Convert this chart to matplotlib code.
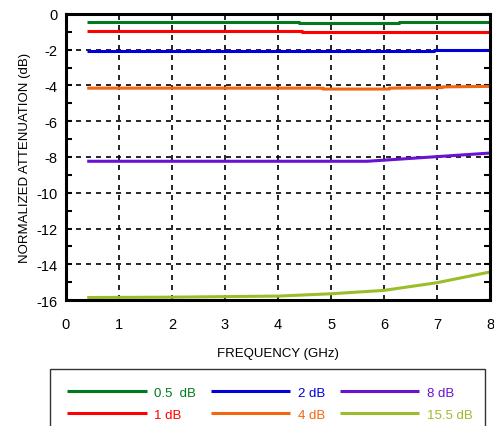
import matplotlib.pyplot as plt
from matplotlib.patches import Rectangle

plt.rcParams['font.family'] = ['Liberation Sans', 'DejaVu Sans']
plt.rcParams['axes.unicode_minus'] = False

# attenuation curves (GHz, dB)
f_05 = [0.4, 4.4, 4.4, 6.28, 6.28, 8.0]
a_05 = [-0.47, -0.47, -0.52, -0.52, -0.47, -0.47]
f_1 = [0.4, 4.45, 4.45, 8.0]
a_1 = [-0.97, -0.97, -1.02, -1.02]
f_2 = [0.4, 6.94, 6.94, 8.0]
a_2 = [-2.07, -2.07, -2.02, -2.02]
f_4 = [0.4, 4.85, 4.85, 6.1, 6.1, 7.1, 7.1, 8.0]
a_4 = [-4.15, -4.15, -4.2, -4.2, -4.15, -4.12, -4.08, -4.05]
f_8 = [0.4, 5.68, 6.24, 7.0, 8.0]
a_8 = [-8.24, -8.24, -8.13, -7.98, -7.78]
f_155 = [0.4, 2.0, 3.0, 4.0, 5.0, 6.0, 7.0, 8.0]
a_155 = [-15.86, -15.84, -15.81, -15.78, -15.65, -15.46, -15.03, -14.43]

labels = ['0.5  dB', '1 dB', '2 dB', '4 dB', '8 dB', '15.5 dB']
colors = ['#007a1c', '#ff0000', '#0000dd', '#f2660f', '#6a12d2', '#9cbd2a']
series = [(f_05, a_05), (f_1, a_1), (f_2, a_2), (f_4, a_4), (f_8, a_8), (f_155, a_155)]

fig = plt.figure(figsize=(4.94, 4.27), dpi=100)
ax = fig.add_axes([0.1336, 0.295, 0.8584, 0.67])

handles = []
for (f, a), lab, c in zip(series, labels, colors):
    h, = ax.plot(f, a, color=c, lw=2.2, label=lab, solid_capstyle='butt')
    handles.append(h)

ax.set_xlim(0, 8)
ax.set_ylim(-16, 0)
ax.set_xticks(range(0, 9))
ax.set_yticks(range(-16, 1, 2))
ax.set_yticks(range(-15, 0, 2), minor=True)
ax.grid(True, which='major', color='black', linestyle=(0, (3, 3)), lw=1.2)
ax.tick_params(which='both', direction='in', right=True, length=4, width=1.5)
ax.tick_params(which='major', labelsize=10.5, pad=6)
ax.tick_params(axis='x', which='major', length=0, pad=12)
for s in ax.spines.values():
    s.set_linewidth(2.2)

ax.set_xlabel('FREQUENCY (GHz)', fontsize=9.5, labelpad=12)
ax.set_ylabel('NORMALIZED ATTENUATION (dB)', fontsize=9.5, labelpad=4)

# legend box runs off the bottom edge
fig.patches.append(Rectangle((0.101, -0.05), 0.881, 0.1835, transform=fig.transFigure,
                             fill=False, edgecolor='#333333', lw=1.0))
leg = fig.legend(handles=handles, ncol=3, loc='upper left', bbox_to_anchor=(0.123, 0.108),
                 frameon=False, fontsize=9.5, handlelength=6.0, handletextpad=0.6,
                 columnspacing=1.1, labelspacing=0.75, borderpad=0)
for t, c in zip(leg.get_texts(), colors):
    t.set_color(c)

fig.savefig('out.png', dpi=100)
